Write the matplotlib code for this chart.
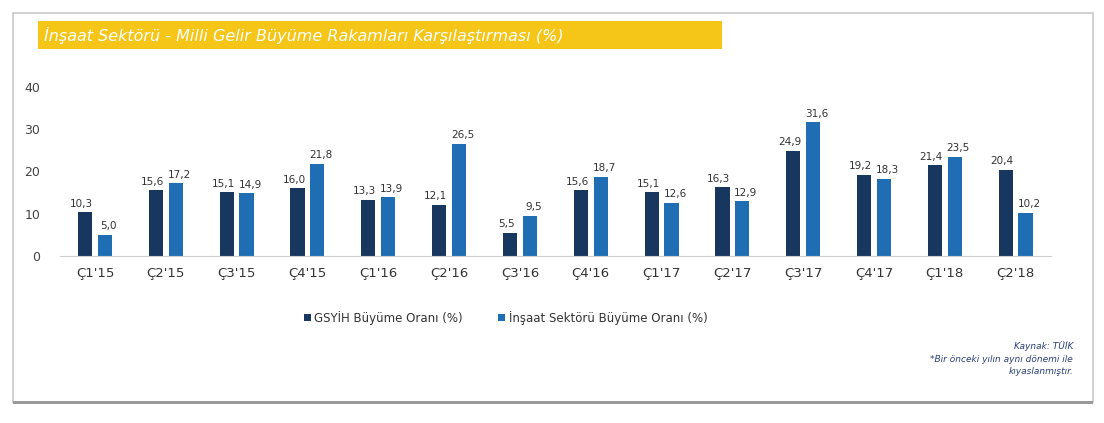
import matplotlib.pyplot as plt
import numpy as np
from matplotlib.patches import Rectangle

quarters = ["Ç1'15", "Ç2'15", "Ç3'15", "Ç4'15", "Ç1'16", "Ç2'16", "Ç3'16",
            "Ç4'16", "Ç1'17", "Ç2'17", "Ç3'17", "Ç4'17", "Ç1'18", "Ç2'18"]
gsyih = [10.3, 15.6, 15.1, 16.0, 13.3, 12.1, 5.5, 15.6, 15.1, 16.3, 24.9, 19.2, 21.4, 20.4]
insaat = [5.0, 17.2, 14.9, 21.8, 13.9, 26.5, 9.5, 18.7, 12.6, 12.9, 31.6, 18.3, 23.5, 10.2]
yticks = [0, 10, 20, 30, 40]

c_dark = "#17375f"
c_light = "#1f6eb3"

fig = plt.figure(figsize=(11.04, 4.23), dpi=100)
fig.patch.set_facecolor("white")

# scanned page frame
fig.patches.append(Rectangle((0.012, 0.05), 0.978, 0.92, transform=fig.transFigure,
                             fill=False, ec="#c8c8c8", lw=1.2))
fig.patches.append(Rectangle((0.012, 0.045), 0.978, 0.006, transform=fig.transFigure,
                             fc="#9a9a9a", ec="none"))

# yellow title banner
fig.patches.append(Rectangle((0.034, 0.885), 0.62, 0.065, transform=fig.transFigure,
                             fc="#f5c518", ec="none"))
fig.text(0.04, 0.917, "İnşaat Sektörü - Milli Gelir Büyüme Rakamları Karşılaştırması (%)",
         color="white", fontsize=11.5, style="italic", va="center", ha="left")

ax = fig.add_axes([0.054, 0.395, 0.898, 0.40])
x = np.arange(len(quarters))
w = 0.2
b1 = ax.bar(x - 0.14, gsyih, w, color=c_dark, label="GSYİH Büyüme Oranı (%)")
b2 = ax.bar(x + 0.14, insaat, w, color=c_light, label="İnşaat Sektörü Büyüme Oranı (%)")

fmt = lambda v: f"{v:.1f}".replace(".", ",")
for bars, vals, dx in [(b1, gsyih, -0.05), (b2, insaat, 0.05)]:
    for r, v in zip(bars, vals):
        ax.text(r.get_x() + r.get_width() / 2 + dx, v + 0.8, fmt(v), ha="center", va="bottom",
                fontsize=7.5, color="#333333")

ax.set_xlim(-0.5, len(quarters) - 0.5)
ax.set_ylim(0, 40)
ax.set_yticks(yticks)
ax.set_yticklabels([str(t) for t in yticks], fontsize=9, color="#444444")
ax.set_xticks(x)
ax.set_xticklabels(quarters, fontsize=9.5, color="#333333")
ax.tick_params(length=0, pad=8)
ax.tick_params(axis="y", pad=14)
for s in ["top", "right", "left"]:
    ax.spines[s].set_visible(False)
ax.spines["bottom"].set_color("#cfcfcf")

ax.legend(loc="upper center", bbox_to_anchor=(0.45, -0.26), ncol=2, frameon=False,
          fontsize=8.5, handlelength=0.6, handleheight=0.6, handletextpad=0.3,
          columnspacing=3, labelcolor="#333333")

fig.text(0.972, 0.175, "Kaynak: TÜİK", ha="right", fontsize=6.5, style="italic", color="#2a3f7a")
fig.text(0.972, 0.145, "*Bir önceki yılın aynı dönemi ile", ha="right", fontsize=6.5,
         style="italic", color="#2a3f7a")
fig.text(0.972, 0.115, "kıyaslanmıştır.", ha="right", fontsize=6.5, style="italic", color="#2a3f7a")

fig.savefig("out.png", dpi=100)
